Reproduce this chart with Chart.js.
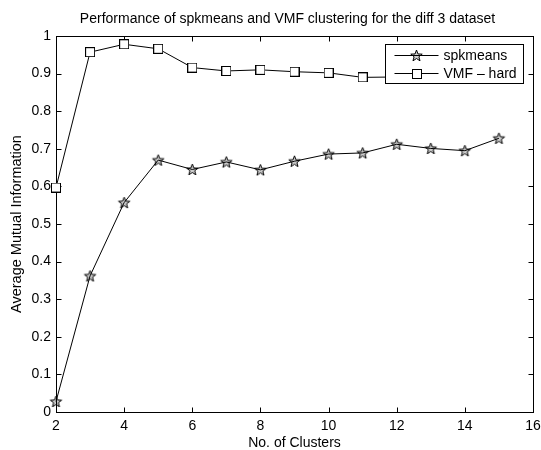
<!DOCTYPE html>
<html lang="en">
<head>
<meta charset="UTF-8">
<title>spkmeans vs VMF - diff 3</title>
<script src="https://cdn.jsdelivr.net/npm/chart.js"></script>
<style>
  html, body { margin: 0; padding: 0; background: #fff; }
  #wrap { position: relative; width: 541px; height: 450px; }
</style>
</head>
<body>
<div id="wrap"><canvas id="nmiChart"></canvas></div>
<script>
// number of clusters and average mutual information per method
const clusters = [2, 3, 4, 5, 6, 7, 8, 9, 10, 11, 12, 13, 14, 15];
const spkmeans = [0.028, 0.362, 0.557, 0.670, 0.645, 0.665, 0.644, 0.667, 0.686, 0.689, 0.712, 0.701, 0.695, 0.728];
const vmfHard  = [0.597, 0.957, 0.978, 0.966, 0.916, 0.907, 0.910, 0.905, 0.902, 0.890, 0.891, 0.889, 0.890, 0.888];
const xTicks = [2, 4, 6, 8, 10, 12, 14, 16];
const yTicks = [0, 0.1, 0.2, 0.3, 0.4, 0.5, 0.6, 0.7, 0.8, 0.9, 1];
const chartTitle = 'Performance of spkmeans and VMF clustering for the diff 3 dataset';

const FONT = '"Liberation Sans", Arial, Helvetica, sans-serif';

// five-pointed star marker, outline only
function makeStar(r) {
  const c = document.createElement('canvas');
  const s = Math.ceil(r * 2 + 3);
  c.width = s; c.height = s;
  const g = c.getContext('2d');
  const cx = s / 2, cy = s / 2 + 0.5, ri = r * 0.42;
  g.beginPath();
  for (let i = 0; i < 10; i++) {
    const rad = i % 2 ? ri : r;
    const a = -Math.PI / 2 + i * Math.PI / 5;
    const px = cx + rad * Math.cos(a), py = cy + rad * Math.sin(a);
    i ? g.lineTo(px, py) : g.moveTo(px, py);
  }
  g.closePath();
  g.fillStyle = 'rgba(0,0,0,0.2)';
  g.fill();
  g.strokeStyle = '#000';
  g.lineWidth = 1;
  g.stroke();
  return c;
}

// open square marker
function makeSquare(side) {
  const c = document.createElement('canvas');
  c.width = side + 1; c.height = side + 1;
  const g = c.getContext('2d');
  g.fillStyle = '#fff';
  g.fillRect(0.5, 0.5, side, side);
  g.strokeStyle = '#000';
  g.lineWidth = 1;
  g.strokeRect(0.5, 0.5, side, side);
  return c;
}

const starMark = makeStar(6);
const squareMark = makeSquare(9);

// axes box with inward ticks on all four sides, title above it
const axesBox = {
  id: 'axesBox',
  beforeDatasetsDraw(chart) {
    const { ctx, chartArea: a, scales: { x, y } } = chart;
    const L = Math.round(a.left) + 0.5, R = Math.round(a.right) + 0.5;
    const T = Math.round(a.top) + 0.5, B = Math.round(a.bottom) + 0.5;
    ctx.save();
    ctx.strokeStyle = '#000';
    ctx.lineWidth = 1;
    ctx.strokeRect(L, T, R - L, B - T);
    ctx.beginPath();
    x.ticks.forEach(t => {
      const px = Math.round(x.getPixelForValue(t.value)) + 0.5;
      ctx.moveTo(px, B); ctx.lineTo(px, B - 5);
      ctx.moveTo(px, T); ctx.lineTo(px, T + 5);
    });
    y.ticks.forEach(t => {
      const py = Math.round(y.getPixelForValue(t.value)) + 0.5;
      ctx.moveTo(L, py); ctx.lineTo(L + 5, py);
      ctx.moveTo(R, py); ctx.lineTo(R - 5, py);
    });
    ctx.stroke();

    ctx.font = '14px ' + FONT;
    ctx.fillStyle = '#000';
    ctx.textAlign = 'center';
    ctx.textBaseline = 'alphabetic';
    ctx.fillText(chartTitle, (a.left + a.right) / 2 - 7, a.top - 13);
    ctx.restore();
  },
  // legend box drawn inside the axes, over the lines
  afterDatasetsDraw(chart) {
    const { ctx, chartArea: a } = chart;
    const w = 138, h = 39;
    const bx = Math.round(a.right) - 10 - w + 0.5;
    const by = Math.round(a.top) + 8 + 0.5;
    ctx.save();
    ctx.fillStyle = '#fff';
    ctx.fillRect(bx, by, w, h);
    ctx.strokeStyle = '#000';
    ctx.lineWidth = 1;
    ctx.strokeRect(bx, by, w, h);
    ctx.font = '14px ' + FONT;
    ctx.textBaseline = 'middle';
    ctx.fillStyle = '#000';
    chart.data.datasets.forEach((ds, i) => {
      const ry = Math.round(by + 10.5 + i * 18) + 0.5;
      ctx.beginPath();
      ctx.moveTo(bx + 9, ry);
      ctx.lineTo(bx + 53, ry);
      ctx.stroke();
      const m = ds.pointStyle;
      ctx.drawImage(m, Math.round(bx + 31 - m.width / 2), Math.round(ry - m.height / 2));
      ctx.fillText(ds.label, bx + 58, ry + 0.5);
    });
    ctx.restore();
  }
};

const ctx = document.getElementById('nmiChart').getContext('2d');
new Chart(ctx, {
  type: 'line',
  data: {
    datasets: [
      {
        label: 'spkmeans',
        data: clusters.map((c, i) => ({ x: c, y: spkmeans[i] })),
        borderColor: '#000',
        borderWidth: 1,
        pointStyle: starMark,
        pointRadius: 6,
        tension: 0,
        clip: false
      },
      {
        label: 'VMF \u2013 hard',
        data: clusters.map((c, i) => ({ x: c, y: vmfHard[i] })),
        borderColor: '#000',
        borderWidth: 1,
        pointStyle: squareMark,
        pointRadius: 6,
        tension: 0,
        clip: false
      }
    ]
  },
  options: {
    responsive: true,
    maintainAspectRatio: false,
    animation: false,
    events: [],
    layout: { padding: { left: 0, right: 0, top: 36, bottom: 0 } },
    plugins: {
      legend: { display: false },
      tooltip: { enabled: false },
      title: { display: false }
    },
    scales: {
      x: {
        type: 'linear',
        min: 2,
        max: 16,
        afterBuildTicks: s => { s.ticks = xTicks.map(v => ({ value: v })); },
        afterFit: s => { s.height = 38; s.paddingLeft = 0; s.paddingRight = 8; },
        grid: { display: false, drawTicks: false },
        border: { display: false },
        ticks: {
          color: '#000',
          font: { family: FONT, size: 14 },
          padding: 6,
          maxRotation: 0,
          callback: v => String(v)
        },
        title: {
          display: true,
          text: 'No. of Clusters',
          color: '#000',
          font: { family: FONT, size: 14, lineHeight: 1 },
          padding: { top: 0, bottom: 0 }
        }
      },
      y: {
        min: 0,
        max: 1,
        afterBuildTicks: s => { s.ticks = yTicks.map(v => ({ value: v })); },
        afterFit: s => { s.width = 56; s.paddingTop = 0; s.paddingBottom = 0; },
        grid: { display: false, drawTicks: false },
        border: { display: false },
        ticks: {
          color: '#000',
          font: { family: FONT, size: 14 },
          padding: 5,
          callback: v => String(+v.toFixed(1))
        },
        title: {
          display: true,
          text: 'Average Mutual Information',
          color: '#000',
          font: { family: FONT, size: 14.5, lineHeight: 1.2 },
          padding: { top: 8.6, bottom: 0 }
        }
      }
    }
  },
  plugins: [axesBox]
});
</script>
</body>
</html>
